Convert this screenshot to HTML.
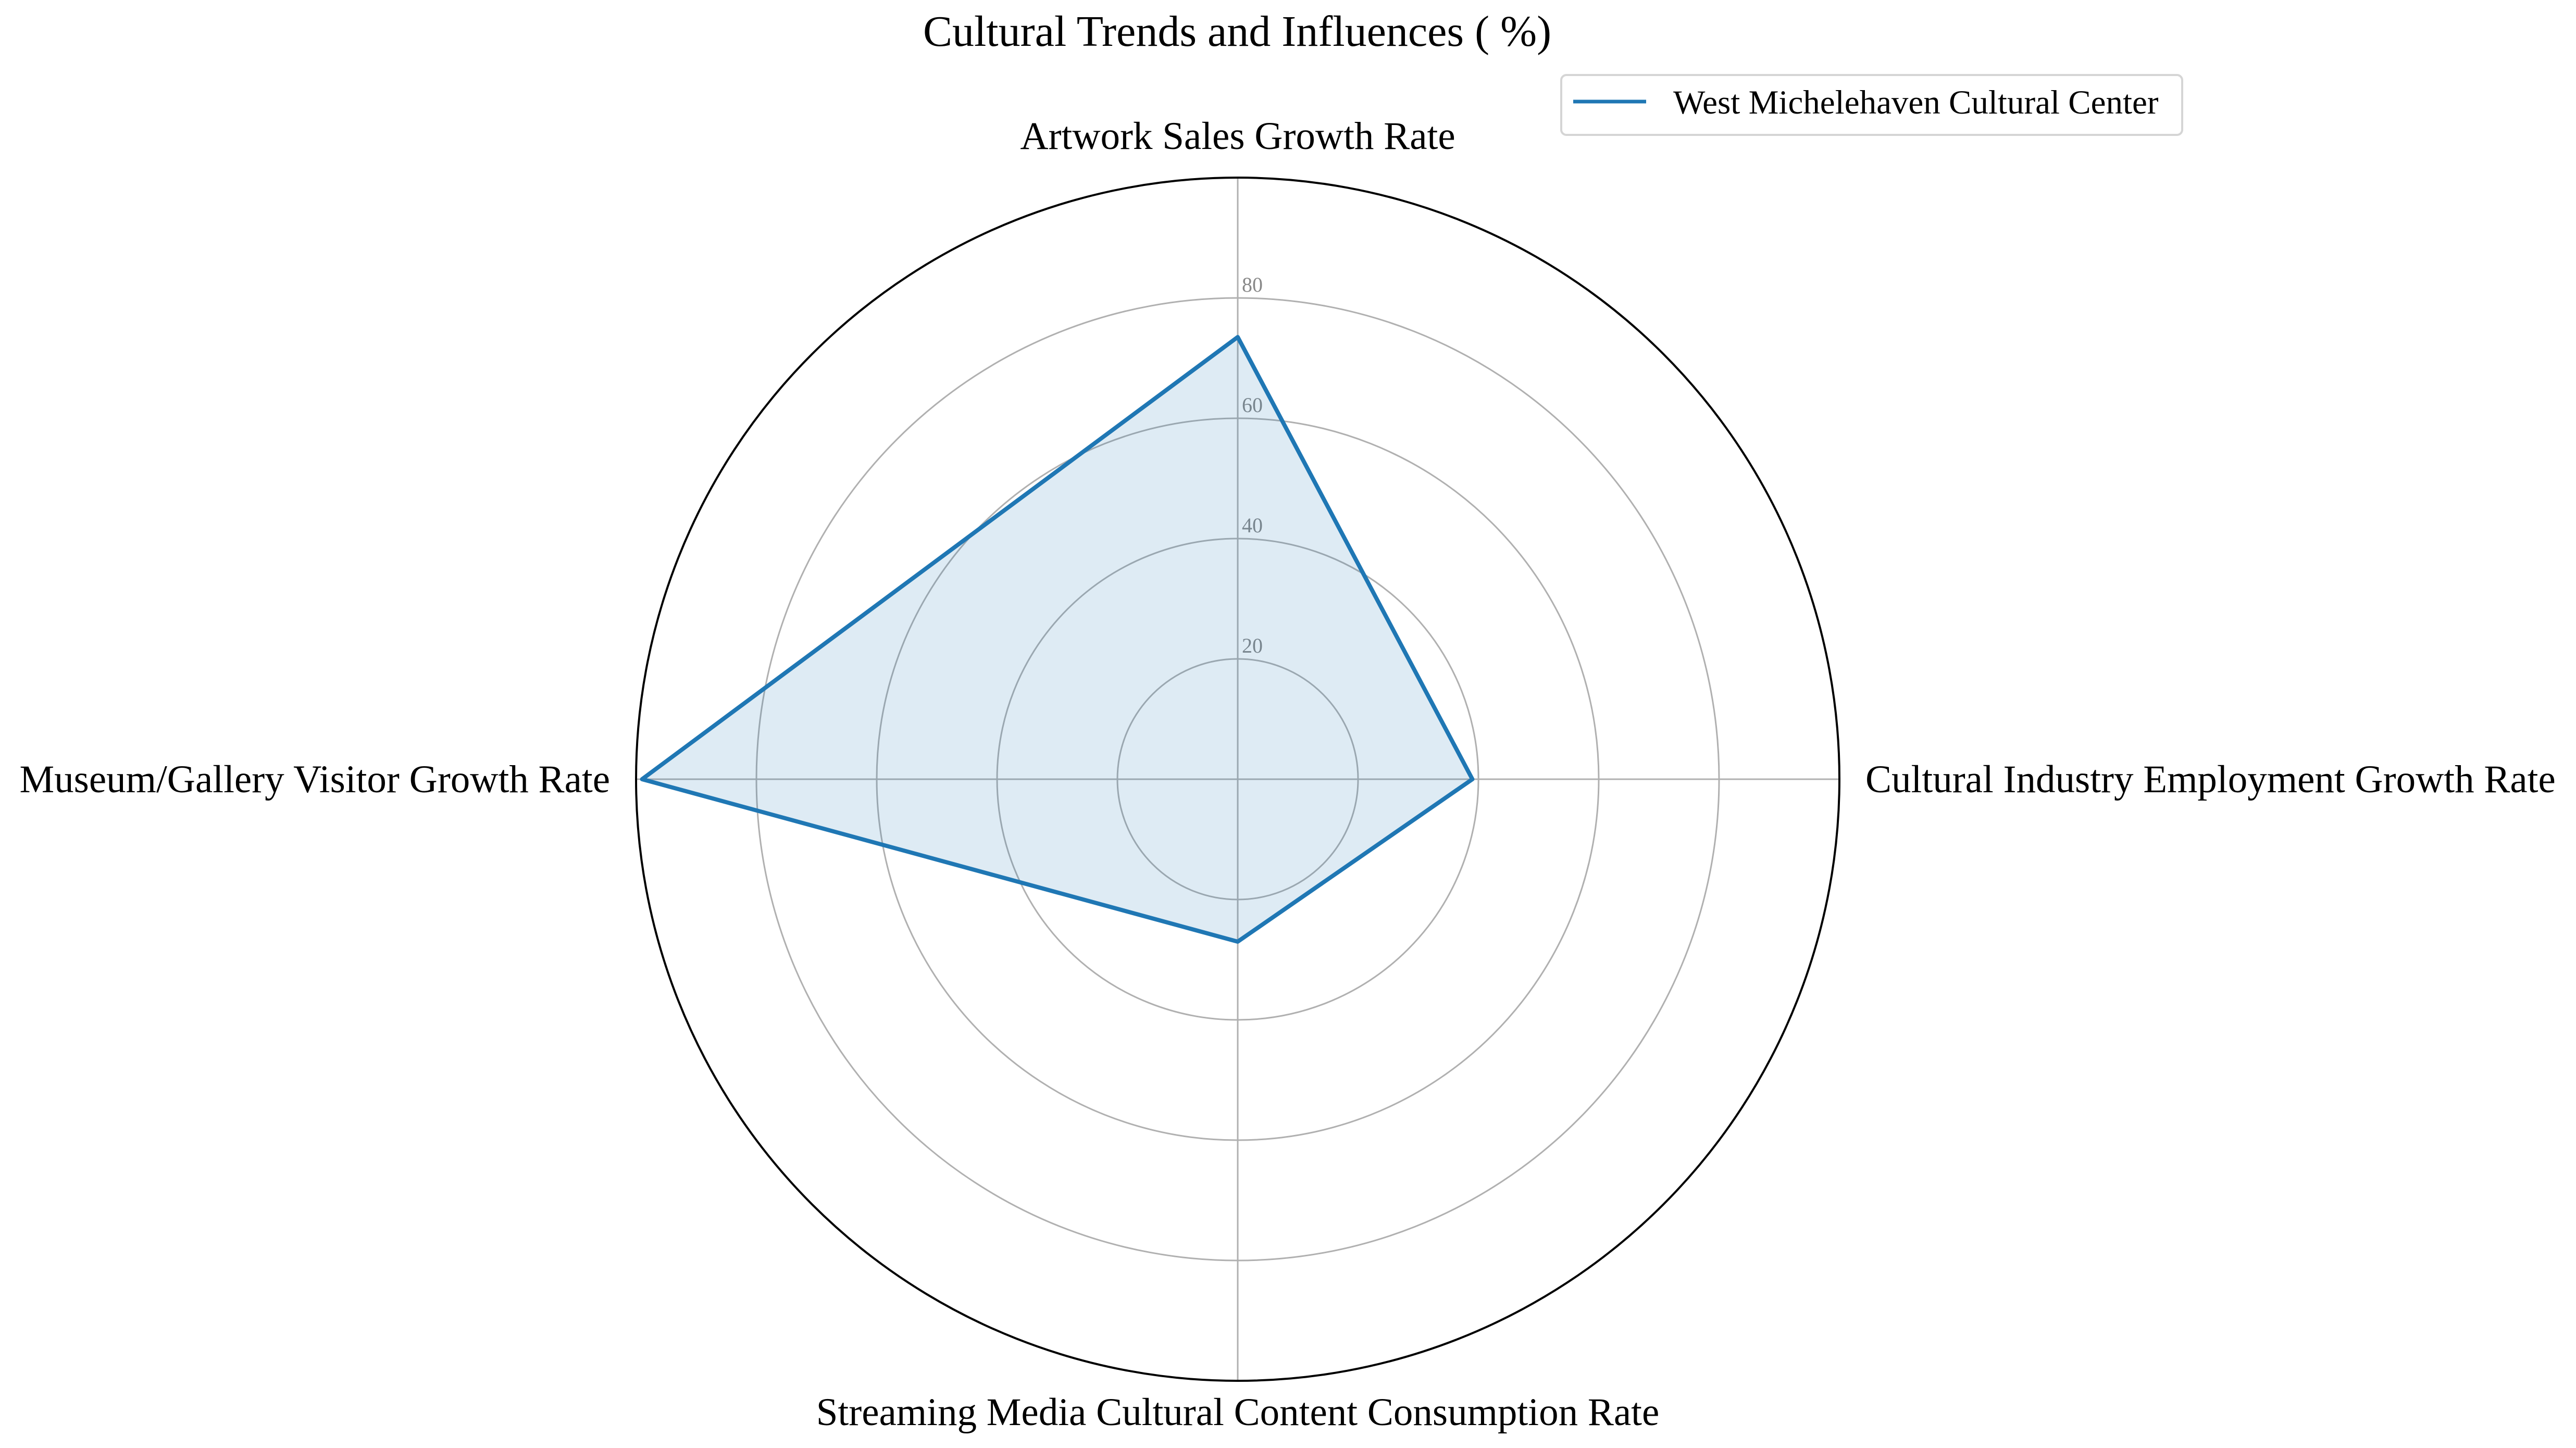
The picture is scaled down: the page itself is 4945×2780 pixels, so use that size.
<!DOCTYPE html>
<html><head><meta charset="utf-8"><style>
html,body{margin:0;padding:0;background:#fff;}
svg text{font-family:"Liberation Serif",serif;}
</style></head><body>
<svg id="chart" width="4945" height="2775" viewBox="0 0 4945 2775" xmlns="http://www.w3.org/2000/svg">
<text x="2375" y="88" font-size="84" text-anchor="middle">Cultural Trends and Influences ( %)</text>
<g id="grid"></g>
<g id="series"></g>
<g id="labels"></g>
<g>
<rect x="2997" y="144" width="1192" height="115" rx="10" fill="#fff" stroke="#d5d5d5" stroke-width="4"/>
<line x1="3020" y1="195" x2="3160" y2="195" stroke="#1f77b4" stroke-width="7"/>
<text x="3212" y="218" font-size="65">West Michelehaven Cultural Center</text>
</g>
</svg>
<script>
const categories = ["Artwork Sales Growth Rate","Cultural Industry Employment Growth Rate","Streaming Media Cultural Content Consumption Rate","Museum/Gallery Visitor Growth Rate"];
const values = [73.5, 39, 27, 99];
const tickValues = [20, 40, 60, 80];
const tickLabels = ["20","40","60","80"];
const rMax = 100;
const NS="http://www.w3.org/2000/svg";
const cx=2376, cy=1496, R=1155;
function rad(v){return v/rMax*R;}
function ang(i){return -Math.PI/2 + i*2*Math.PI/categories.length;}
function pt(i,v){const a=ang(i);return [cx+rad(v)*Math.cos(a), cy+rad(v)*Math.sin(a)];}
function mk(tag,attrs,parent){const e=document.createElementNS(NS,tag);for(const k in attrs)e.setAttribute(k,attrs[k]);parent.appendChild(e);return e;}
const grid=document.getElementById('grid');
tickValues.forEach((t,i)=>{
  const c=mk('circle',{cx:cx,cy:cy,r:rad(t),fill:'none',stroke:'#b0b0b0','stroke-width':3},grid);
  
  
});
categories.forEach((c,i)=>{
  const p=pt(i,rMax);
  const l=mk('line',{x1:cx,y1:cy,x2:p[0],y2:p[1],stroke:'#b0b0b0','stroke-width':3},grid);
  
  
});
const outer=mk('circle',{cx:cx,cy:cy,r:R,fill:'none',stroke:'#000','stroke-width':4},grid);


tickValues.forEach((t,i)=>{
  const tx=mk('text',{x:cx+8,y:cy-rad(t)-12,'font-size':40,fill:'#888'},grid);
  tx.textContent=tickLabels[i];
  
  
});
const ser=document.getElementById('series');
const pts=values.map((v,i)=>pt(i,v).join(',')).join(' ');
const poly=mk('polygon',{points:pts,fill:'#1f77b4','fill-opacity':0.15,stroke:'#1f77b4','stroke-width':8,'stroke-linejoin':'round'},ser);


const lab=document.getElementById('labels');
categories.forEach((c,i)=>{
  const p=pt(i,rMax);
  let x=p[0],y=p[1],anchor='middle';
  if(i===0){y=p[1]-55;}
  else if(i===1){x=p[0]+50;anchor='start';y=p[1]+25;}
  else if(i===2){y=p[1]+85;}
  else {x=p[0]-50;anchor='end';y=p[1]+25;}
  const t=mk('text',{x:x,y:y,'font-size':75,'text-anchor':anchor},lab);
  t.textContent=c;
  
  
});
</script>
</body></html>
